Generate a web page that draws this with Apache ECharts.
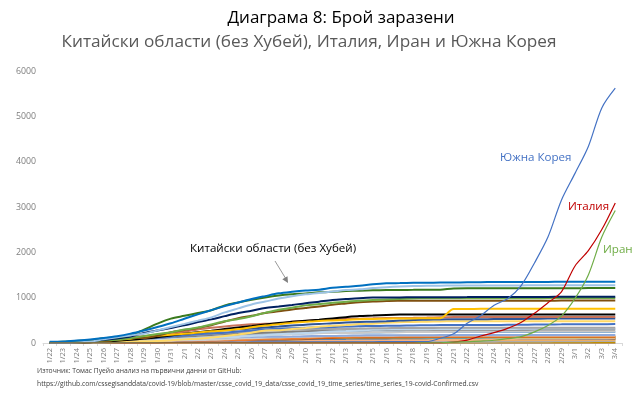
<!DOCTYPE html>
<html><head><meta charset="utf-8">
<script src="https://cdn.jsdelivr.net/npm/echarts@6/dist/echarts.min.js"></script>
<style>html,body{margin:0;padding:0;background:#fff}#c{width:640px;height:396px}</style>
</head><body><div id="c"></div>
<script>
const dates = ['1/22','1/23','1/24','1/25','1/26','1/27','1/28','1/29','1/30','1/31','2/1','2/2','2/3','2/4','2/5','2/6','2/7','2/8','2/9','2/10','2/11','2/12','2/13','2/14','2/15','2/16','2/17','2/18','2/19','2/20','2/21','2/22','2/23','2/24','2/25','2/26','2/27','2/28','2/29','3/1','3/2','3/3','3/4'];
const yTicks = [0,1000,2000,3000,4000,5000,6000];

const southKorea = [1,1,2,2,3,4,4,4,4,11,12,15,15,16,19,23,24,24,25,27,28,28,28,28,28,29,30,31,31,104,204,433,602,833,977,1261,1766,2337,3150,3736,4335,5186,5621];
const italy = [0,0,0,0,0,0,0,0,0,2,2,2,2,2,2,3,3,3,3,3,3,3,3,3,3,3,3,3,3,3,20,62,155,229,322,453,655,888,1128,1694,2036,2502,3089];
const iran = [0,0,0,0,0,0,0,0,0,0,0,0,0,0,0,0,0,0,0,0,0,0,0,0,0,0,0,0,2,5,18,28,43,61,95,139,245,388,593,978,1501,2336,2922];

const guangdong = [26,32,53,78,111,151,207,277,354,436,535,632,725,813,895,970,1034,1095,1131,1159,1177,1219,1241,1261,1294,1316,1322,1328,1331,1332,1333,1339,1342,1345,1347,1347,1347,1348,1349,1349,1350,1350,1350];
const henan = [5,5,9,32,83,128,168,206,278,352,422,493,566,675,764,851,914,981,1033,1073,1105,1135,1169,1184,1212,1231,1246,1257,1262,1265,1267,1270,1271,1271,1271,1271,1272,1272,1272,1272,1272,1272,1272];
const zhejiang = [10,27,43,62,104,128,173,296,428,538,599,661,724,829,895,954,1006,1048,1075,1092,1117,1131,1145,1155,1162,1167,1171,1172,1174,1175,1203,1205,1205,1205,1205,1205,1205,1205,1205,1206,1213,1213,1213];
const hunan = [4,9,24,43,69,100,143,221,277,332,389,463,521,593,661,711,772,803,838,879,912,946,968,988,1001,1004,1006,1007,1008,1010,1011,1013,1016,1016,1016,1016,1017,1017,1018,1018,1018,1018,1018];
const anhui = [1,9,15,39,60,70,106,152,200,237,297,340,408,480,530,591,665,733,779,830,860,889,910,934,950,962,973,982,986,987,988,989,989,989,989,989,989,990,990,990,990,990,990];
const jiangxi = [2,7,18,18,36,72,109,109,162,240,286,333,391,476,548,600,661,698,740,771,804,844,872,900,913,925,930,933,934,934,934,934,934,934,934,934,934,934,935,935,935,935,935];
const shandong = [2,6,15,27,46,75,95,130,158,184,206,230,259,275,307,347,386,416,444,466,487,497,509,523,532,537,541,543,544,546,749,750,754,755,756,756,756,756,756,756,756,758,758];
const jiangsu = [1,5,9,18,33,47,70,99,129,168,202,236,271,308,341,373,408,439,468,492,515,543,570,593,604,617,626,629,631,631,631,631,631,631,631,631,631,631,631,631,631,631,631];
const chongqing = [6,9,27,57,75,110,132,147,182,211,247,300,337,366,389,411,426,428,468,486,505,518,529,537,544,551,553,555,560,567,572,573,575,576,576,576,576,576,576,576,576,576,576];
const sichuan = [5,8,15,28,44,69,90,108,142,177,207,231,254,282,301,321,344,363,386,405,417,436,451,463,470,481,495,508,514,520,525,526,526,527,529,531,534,538,538,538,538,538,539];
const heilongjiang = [0,2,4,9,15,21,33,38,44,59,80,95,121,155,190,227,277,282,307,331,360,378,395,418,425,445,457,464,470,476,479,479,480,480,480,480,480,480,480,480,480,480,481];
const beijing = [14,22,36,41,68,80,91,111,114,139,168,191,212,228,253,274,297,315,326,337,342,352,366,372,375,380,381,387,393,395,396,399,399,399,400,400,410,410,411,413,414,414,418];
const shanghai = [9,16,20,33,40,53,66,96,112,135,169,182,203,219,243,257,277,286,293,299,303,311,315,318,326,328,333,333,333,334,334,335,335,335,336,337,337,337,337,337,338,338,338];
const hebei = [1,1,2,8,13,18,33,48,65,82,96,104,113,126,135,157,172,195,206,218,239,251,265,283,291,300,301,306,306,307,308,309,311,311,311,312,317,318,318,318,318,318,318];
const fujian = [1,5,10,18,35,59,80,84,101,120,144,159,179,194,205,215,224,239,250,261,267,272,279,281,285,287,290,292,293,293,293,293,293,293,294,294,296,296,296,296,296,296,296];
const guangxi = [2,5,23,23,36,46,51,58,78,87,100,111,127,139,150,168,172,183,195,210,215,222,222,226,235,237,238,242,244,245,246,249,249,251,252,252,252,252,252,252,252,252,252];
const shaanxi = [0,3,5,15,22,35,46,56,63,87,101,116,128,142,165,173,184,195,208,213,219,225,229,230,232,236,240,240,242,245,245,245,245,245,245,245,245,245,245,245,245,245,245];
const yunnan = [1,2,5,11,16,26,44,55,70,83,93,105,117,122,128,135,138,140,141,149,154,155,162,168,169,171,172,172,172,174,174,174,174,174,174,174,174,174,174,174,174,174,174];
const hainan = [4,5,8,19,22,33,40,43,46,52,62,64,72,80,99,106,117,124,131,138,144,157,157,159,162,162,163,163,168,168,168,168,168,168,168,168,168,168,168,168,168,168,168];
const guizhou = [1,3,3,4,5,7,9,9,12,29,29,38,46,58,64,71,81,89,99,109,127,133,135,140,143,144,146,146,146,146,146,146,146,146,146,146,146,146,146,146,146,146,146];
const tianjin = [4,4,8,10,14,23,24,27,31,32,41,48,60,67,69,79,81,88,91,95,106,112,119,120,122,124,125,128,130,131,132,135,135,135,135,135,136,136,136,136,136,136,136];
const shanxi = [1,1,1,6,9,13,27,27,35,39,47,56,66,74,81,90,96,104,115,119,119,124,126,126,127,128,129,130,131,131,132,132,132,133,133,133,133,133,133,133,133,133,133];
const liaoning = [2,3,4,17,21,27,34,39,41,48,64,70,74,81,89,94,99,105,107,108,111,116,117,119,119,121,121,121,121,121,121,121,121,121,121,121,121,121,121,122,122,125,125];
const hongKong = [0,2,2,5,8,8,8,10,10,12,13,15,15,17,21,24,25,26,29,38,49,50,53,56,56,57,60,62,63,68,68,69,74,79,84,91,92,94,95,96,100,100,104];
const gansu = [0,2,2,4,7,14,19,24,26,29,40,51,55,57,62,62,67,79,83,83,86,87,90,90,90,90,91,91,91,91,91,91,91,91,91,91,91,91,91,91,91,91,102];
const jilin = [0,1,3,4,4,6,8,9,14,14,17,23,31,42,54,59,65,69,78,80,81,83,84,86,88,89,89,89,90,91,91,91,93,93,93,93,93,93,93,93,93,93,93];
const xinjiang = [0,2,2,3,4,5,10,13,14,17,18,21,24,29,32,36,39,42,45,49,55,59,63,65,70,71,73,76,76,76,76,76,76,76,76,76,76,76,76,76,76,76,76];
const innerMongolia = [0,0,1,7,7,11,15,16,19,20,23,27,34,35,42,46,50,52,54,58,58,60,61,65,68,70,72,73,75,75,75,75,75,75,75,75,75,75,75,75,75,75,75];
const ningxia = [1,1,2,3,4,7,11,12,17,21,26,28,31,34,34,40,43,45,45,49,53,58,64,67,70,70,70,70,71,71,71,71,71,72,72,73,73,74,74,74,74,75,75];
const taiwan = [1,1,3,3,4,5,8,8,9,10,10,10,10,11,11,16,16,17,18,18,18,18,18,18,20,20,22,22,23,24,26,26,28,30,31,32,32,34,39,40,41,42,42];
const qinghai = [0,0,0,1,1,6,6,6,8,9,11,13,15,17,18,18,18,18,18,18,18,18,18,18,18,18,18,18,18,18,18,18,18,18,18,18,18,18,18,18,18,18,18];
const macau = [1,2,2,2,5,6,7,7,7,7,7,8,8,10,10,10,10,10,10,10,10,10,10,10,10,10,10,10,10,10,10,10,10,10,10,10,10,10,10,10,10,10,10];
const tibet = [0,0,0,0,0,0,0,0,1,1,1,1,1,1,1,1,1,1,1,1,1,1,1,1,1,1,1,1,1,1,1,1,1,1,1,1,1,1,1,1,1,1,1];

const provinces = [
  ['Тибет', tibet], ['Макао', macau], ['Цинхай', qinghai], ['Тайван', taiwan], ['Нинся', ningxia],
  ['Вътрешна Монголия', innerMongolia], ['Синдзян', xinjiang], ['Дзилин', jilin], ['Гансу', gansu],
  ['Хонконг', hongKong], ['Ляонин', liaoning], ['Шанси', shanxi], ['Тиендзин', tianjin], ['Гуейджоу', guizhou],
  ['Хайнан', hainan], ['Юннан', yunnan], ['Шанси (Шаанси)', shaanxi], ['Гуанси', guangxi], ['Фудзиен', fujian],
  ['Хебей', hebei], ['Шанхай', shanghai], ['Пекин', beijing], ['Хъйлундзян', heilongjiang], ['Съчуан', sichuan],
  ['Чунцин', chongqing], ['Дзянсу', jiangsu], ['Шандун', shandong], ['Дзянси', jiangxi], ['Анхуей', anhui],
  ['Хунан', hunan], ['Джъдзян', zhejiang], ['Хенан', henan], ['Гуандун', guangdong]
];
const provinceColors = {
  'Тибет':'#767171','Макао':'#F8CBAD','Цинхай':'#BF9000','Тайван':'#AFABAB','Нинся':'#ED7D31',
  'Вътрешна Монголия':'#C55A11','Синдзян':'#FFE699','Дзилин':'#843C0C','Гансу':'#2E75B6',
  'Хонконг':'#F4B183','Ляонин':'#A9D18E','Шанси':'#BF9000','Тиендзин':'#C55A11','Гуейджоу':'#ED7D31',
  'Хайнан':'#D0CECE','Юннан':'#8FAADC','Шанси (Шаанси)':'#5B9BD5','Гуанси':'#C9C9C9','Фудзиен':'#7F7F7F',
  'Хебей':'#BDD7EE','Шанхай':'#A5A5A5','Пекин':'#4472C4','Хъйлундзян':'#FFD966','Съчуан':'#2F5597',
  'Чунцин':'#C9735A','Дзянсу':'#000000','Шандун':'#FFC000','Дзянси':'#7F4F10','Анхуей':'#70AD47',
  'Хунан':'#002060','Джъдзян':'#3A7A1E','Хенан':'#9DC3E6','Гуандун':'#0070C0'
};

const FONT = 'Open Sans';
const series = provinces.map(([name, data]) => ({
  name, type: 'line', data, smooth: 0.3, symbol: 'none', silent: true,
  lineStyle: { width: 2, color: provinceColors[name] }
}));
[['Южна Корея', southKorea, '#4472C4'], ['Италия', italy, '#C00000'], ['Иран', iran, '#70AD47']].forEach(([name, data, color]) => {
  series.push({ name, type: 'line', data, smooth: 0.3, symbol: 'none', silent: true, z: 5,
    lineStyle: { width: 1.2, color } });
});

const chart = echarts.init(document.getElementById('c'), null, { renderer: 'canvas' });
chart.setOption({
  animation: false,
  backgroundColor: '#fff',
  title: [
    { text: 'Диаграма 8: Брой заразени', left: 336, top: 5, textAlign: 'center',
      textStyle: { fontFamily: FONT, fontSize: 17, fontWeight: 'normal', color: '#000' } },
    { text: 'Китайски области (без Хубей), Италия, Иран и Южна Корея', left: 304, top: 29, textAlign: 'center',
      textStyle: { fontFamily: FONT, fontSize: 17.2, fontWeight: 'normal', color: '#595959' } },
    { text: 'Източник: Томас Пуейо анализ на първични данни от GitHub:\nhttps://github.com/cssegisanddata/covid-19/blob/master/csse_covid_19_data/csse_covid_19_time_series/time_series_19-covid-Confirmed.csv',
      left: 37, top: 365, padding: 0,
      textStyle: { fontFamily: FONT, fontSize: 6.75, lineHeight: 13, fontWeight: 'normal', color: '#404040' } }
  ],
  grid: { left: 43, right: 18, top: 71, bottom: 53 },
  xAxis: {
    type: 'category', data: dates, boundaryGap: true,
    axisLine: { lineStyle: { color: '#D9D9D9' } },
    axisTick: { show: true, length: 3, lineStyle: { color: '#D9D9D9' } },
    axisLabel: { rotate: 90, interval: 0, fontFamily: FONT, fontSize: 7.5, color: '#7F7F7F', margin: 5 }
  },
  yAxis: {
    type: 'value', min: yTicks[0], max: yTicks[yTicks.length - 1], interval: 1000,
    axisLine: { show: false }, axisTick: { show: false }, splitLine: { show: false },
    axisLabel: { fontFamily: FONT, fontSize: 8.8, color: '#7F7F7F', margin: 7, formatter: v => String(v) }
  },
  graphic: [
    { type: 'text', left: 190, top: 243, style: { text: 'Китайски области (без Хубей)', font: '11.6px "Open Sans"', fill: '#000' } },
    { type: 'line', shape: { x1: 275, y1: 261, x2: 286, y2: 279 }, style: { stroke: '#7F7F7F', lineWidth: 0.8 } },
    { type: 'polygon', shape: { points: [[288, 283], [282.3, 279.3], [287.5, 276.3]] }, style: { fill: '#7F7F7F' } },
    { type: 'text', left: 500, top: 152, style: { text: 'Южна Корея', font: '11.6px "Open Sans"', fill: '#4472C4' } },
    { type: 'text', left: 568, top: 201, style: { text: 'Италия', font: '11.6px "Open Sans"', fill: '#C00000' } },
    { type: 'text', left: 603, top: 244, style: { text: 'Иран', font: '11.6px "Open Sans"', fill: '#70AD47' } }
  ],
  series
});
</script></body></html>
